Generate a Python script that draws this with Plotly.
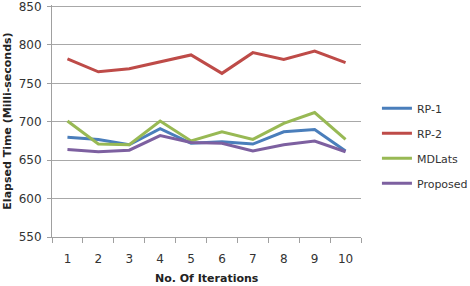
import plotly.graph_objects as go

iterations = ["1", "2", "3", "4", "5", "6", "7", "8", "9", "10"]
rp1 = [680, 677, 670, 691, 672, 674, 671, 687, 690, 662]
rp2 = [782, 765, 769, 778, 787, 763, 790, 781, 792, 777]
mdlats = [701, 671, 670, 701, 675, 687, 677, 698, 712, 677]
proposed = [664, 661, 663, 682, 673, 672, 662, 670, 675, 661]
y_ticks = [550, 600, 650, 700, 750, 800, 850]

series = [
    ("RP-1", rp1, "#4a7ebb"),
    ("RP-2", rp2, "#be4b48"),
    ("MDLats", mdlats, "#98b954"),
    ("Proposed", proposed, "#7d60a0"),
]

fig = go.Figure()
for name, vals, color in series:
    fig.add_trace(go.Scatter(x=iterations, y=vals, name=name, mode="lines",
                             legendgroup=name,
                             line=dict(color=color, width=3)))

font_main = "DejaVu Sans"
fig.update_layout(
    width=470, height=286,
    margin=dict(l=52, r=109, t=5, b=49),
    paper_bgcolor="white", plot_bgcolor="white",
    font=dict(family=font_main, size=12, color="#333333"),
    legend=dict(xref="container", yref="container", x=0.802, y=0.49,
                xanchor="left", yanchor="middle",
                font=dict(size=11, color="#333333"),
                tracegroupgap=6, itemwidth=30),
    showlegend=True,
    annotations=[dict(text="<b>No. Of Iterations</b>", xref="paper", yref="paper",
                      x=0.502, y=-0.1775, xanchor="center", yanchor="middle",
                      showarrow=False, font=dict(size=11, color="#222222"))],
)
fig.update_xaxes(type="category", tickson="boundaries", ticks="outside", ticklen=5,
                 tickcolor="#a0a0a0", showline=True, linecolor="#a0a0a0", linewidth=1,
                 showgrid=False, range=[-0.5, 9.5], ticklabelstandoff=11, automargin=False,
                 tickfont=dict(size=12))
fig.update_yaxes(range=[550, 852], tickvals=y_ticks,
                 ticks="outside", ticklen=4, ticklabelstandoff=3, automargin=False,
                 ticklabeloverflow="allow",
                 tickcolor="#a0a0a0", showline=True, linecolor="#a0a0a0", linewidth=1,
                 showgrid=True, gridcolor="#a8a8a8", gridwidth=1, zeroline=False,
                 tickfont=dict(size=12),
                 title=dict(text="<b>Elapsed Time (Milli-seconds)</b>", font=dict(size=11, color="#222222"), standoff=4))

fig.write_html("out.html")
